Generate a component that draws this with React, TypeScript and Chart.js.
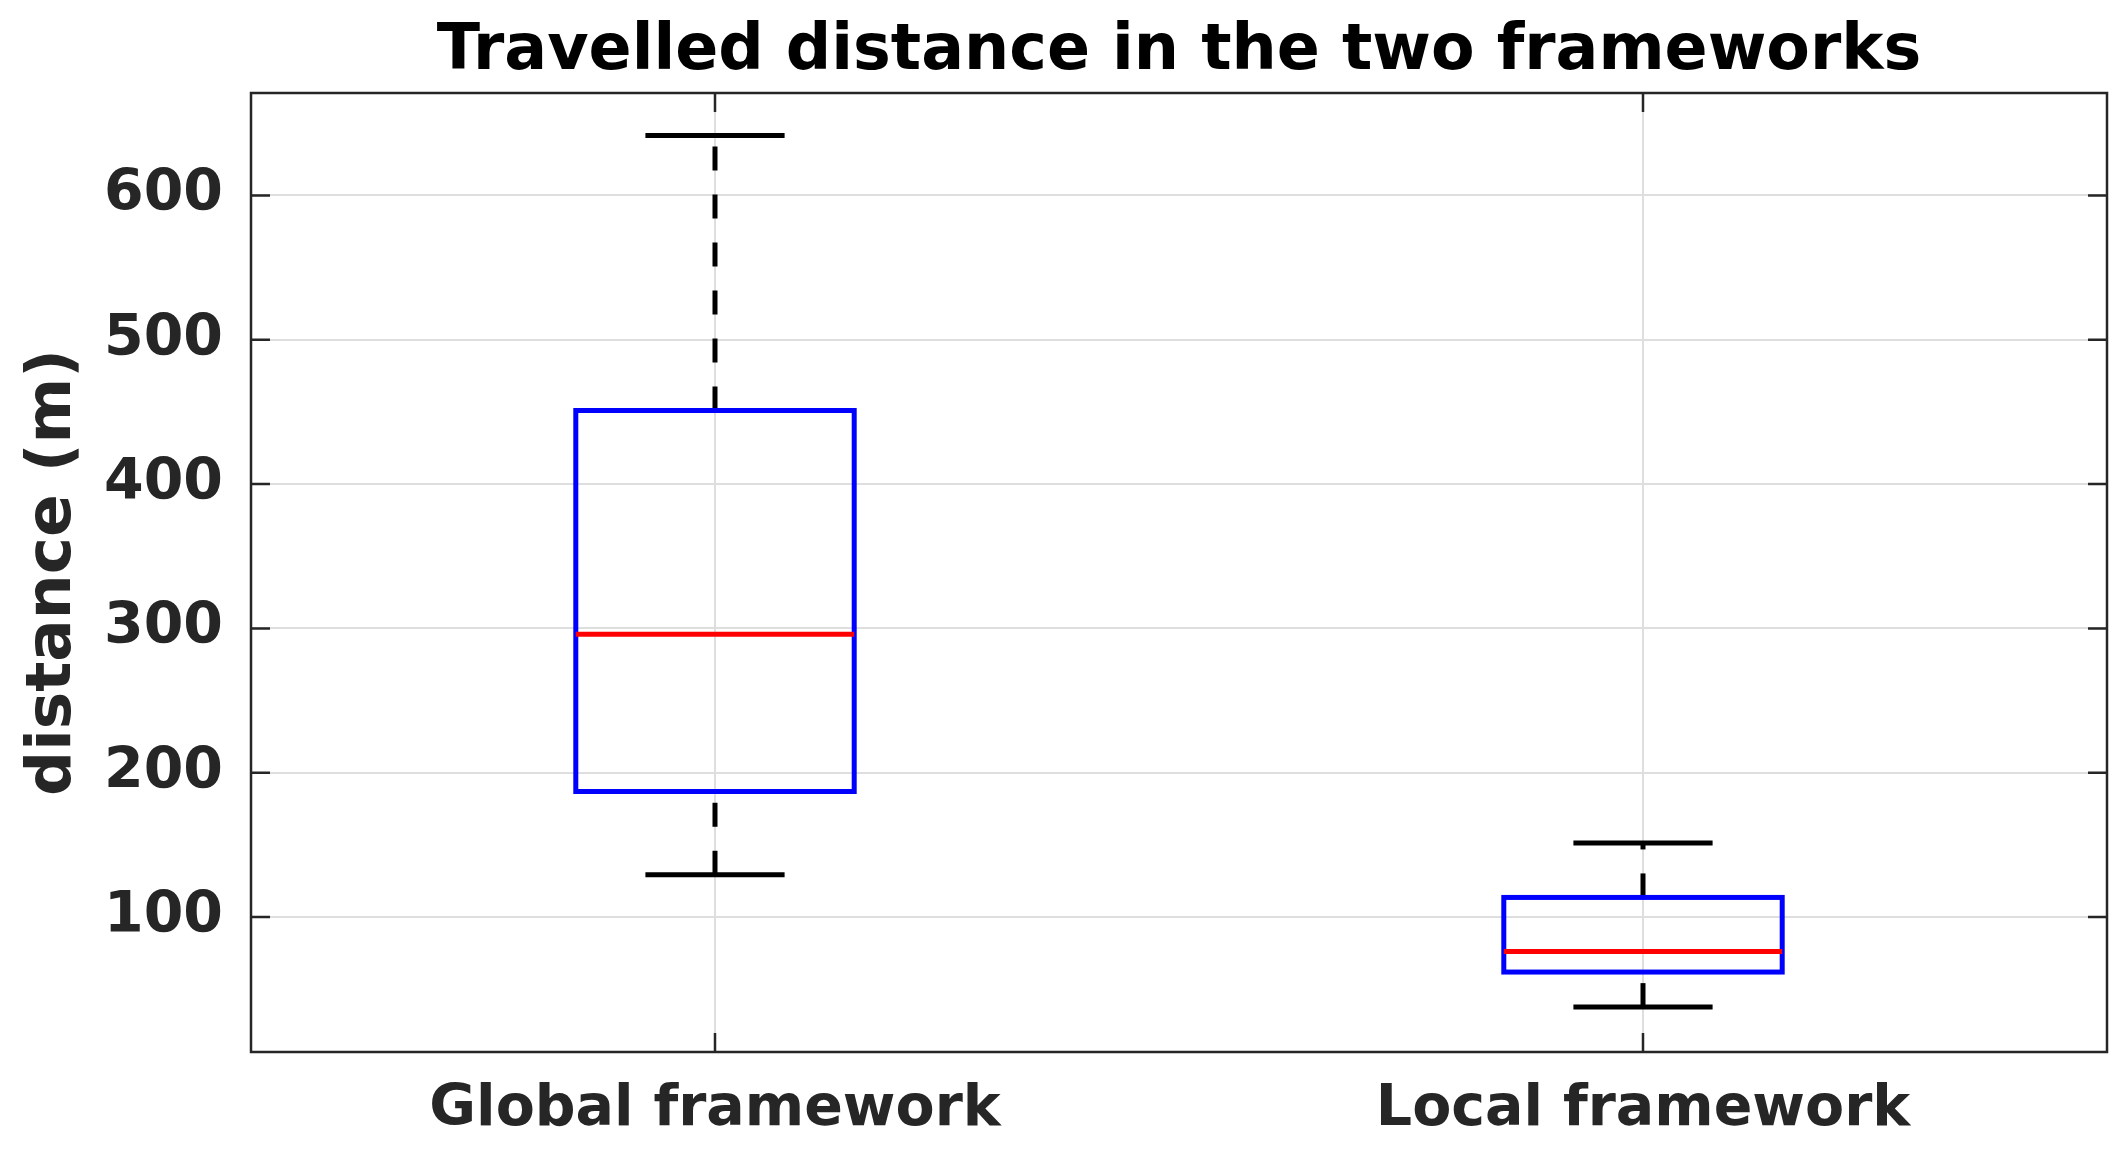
import React, { useEffect, useRef } from "react";
import { Chart, registerables } from "chart.js";

Chart.register(...registerables);

const categories = ["Global framework", "Local framework"];
const lowerWhisker = [129.3, 37.6];
const q1Values = [187.0, 61.9];
const medianValues = [296.0, 76.2];
const q3Values = [451.0, 113.6];
const upperWhisker = [641.6, 151.3];
const yTickValues = [100, 200, 300, 400, 500, 600];
const yMin = 6.5;
const yMax = 671;

const titleText = "Travelled distance in the two frameworks";
const yAxisTitle = "distance (m)";

const centerTitlePlugin = {
  id: "centerTitlePlugin",
  afterLayout(chart: any) {
    const tb = chart.titleBlock;
    if (tb) {
      tb.left = chart.chartArea.left;
      tb.right = chart.chartArea.right;
      tb.width = chart.chartArea.right - chart.chartArea.left;
    }
  },
};

const boxPlotPlugin = {
  id: "boxPlotPlugin",
  afterDatasetsDraw(chart: any) {
    const { ctx, scales } = chart;
    const x = scales.x;
    const y = scales.y;
    const step = Math.abs(x.getPixelForValue(1) - x.getPixelForValue(0));
    const boxHalf = step * 0.15;
    const capHalf = step * 0.075;
    ctx.save();
    ctx.lineCap = "butt";
    for (let i = 0; i < categories.length; i++) {
      const cx = x.getPixelForValue(i);
      const yLw = y.getPixelForValue(lowerWhisker[i]);
      const yQ1 = y.getPixelForValue(q1Values[i]);
      const yMed = y.getPixelForValue(medianValues[i]);
      const yQ3 = y.getPixelForValue(q3Values[i]);
      const yUw = y.getPixelForValue(upperWhisker[i]);
      ctx.strokeStyle = "#000000";
      ctx.lineWidth = 5;
      ctx.setLineDash([24, 24]);
      ctx.beginPath();
      ctx.moveTo(cx, yLw);
      ctx.lineTo(cx, yQ1);
      ctx.stroke();
      ctx.beginPath();
      ctx.moveTo(cx, yQ3);
      ctx.lineTo(cx, yUw);
      ctx.stroke();
      ctx.setLineDash([]);
      ctx.beginPath();
      ctx.moveTo(cx - capHalf, yLw);
      ctx.lineTo(cx + capHalf, yLw);
      ctx.moveTo(cx - capHalf, yUw);
      ctx.lineTo(cx + capHalf, yUw);
      ctx.stroke();
      ctx.strokeStyle = "#0000ff";
      ctx.lineJoin = "miter";
      ctx.strokeRect(cx - boxHalf, yQ3, boxHalf * 2, yQ1 - yQ3);
      ctx.strokeStyle = "#ff0000";
      ctx.beginPath();
      ctx.moveTo(cx - boxHalf, yMed);
      ctx.lineTo(cx + boxHalf, yMed);
      ctx.stroke();
    }
    ctx.restore();
  },
};

const axesFramePlugin = {
  id: "axesFramePlugin",
  afterDraw(chart: any) {
    const { ctx, chartArea, scales } = chart;
    const { left, right, top, bottom } = chartArea;
    const tickLen = 19;
    ctx.save();
    ctx.strokeStyle = "#262626";
    ctx.lineWidth = 2.5;
    ctx.beginPath();
    for (const v of yTickValues) {
      const py = scales.y.getPixelForValue(v);
      ctx.moveTo(left, py);
      ctx.lineTo(left + tickLen, py);
      ctx.moveTo(right, py);
      ctx.lineTo(right - tickLen, py);
    }
    for (let i = 0; i < categories.length; i++) {
      const px = scales.x.getPixelForValue(i);
      ctx.moveTo(px, bottom);
      ctx.lineTo(px, bottom - tickLen);
      ctx.moveTo(px, top);
      ctx.lineTo(px, top + tickLen);
    }
    ctx.stroke();
    ctx.strokeRect(left, top, right - left, bottom - top);
    ctx.restore();
  },
};

export default function App() {
  const canvasRef = useRef<HTMLCanvasElement | null>(null);

  useEffect(() => {
    const canvas = canvasRef.current;
    if (!canvas) return;
    const chart = new Chart(canvas, {
      type: "line",
      data: {
        labels: categories,
        datasets: [],
      },
      options: {
        animation: false,
        responsive: false,
        devicePixelRatio: 1,
        layout: { padding: { left: 0, right: 17, top: 0, bottom: 0 } },
        plugins: {
          legend: { display: false },
          tooltip: { enabled: false },
          title: {
            display: true,
            text: titleText,
            color: "#000000",
            font: { family: "'DejaVu Sans'", size: 63.5, weight: "bold", lineHeight: 1 },
            padding: { top: 21, bottom: 8.5 },
          },
        },
        scales: {
          x: {
            type: "category",
            offset: true,
            grid: { offset: false, color: "#dedede", lineWidth: 2, drawTicks: false },
            border: { display: false },
            ticks: {
              color: "#262626",
              padding: 30,
              font: { family: "'DejaVu Sans'", size: 57, weight: "bold", lineHeight: 1 },
              maxRotation: 0,
              autoSkip: false,
            },
            afterFit(scale: any) {
              scale.height = 101;
            },
          },
          y: {
            type: "linear",
            min: yMin,
            max: yMax,
            grid: { color: "#dedede", lineWidth: 2, drawTicks: false },
            border: { display: false },
            ticks: {
              color: "#262626",
              padding: 28,
              font: { family: "'DejaVu Sans'", size: 57, weight: "bold", lineHeight: 1 },
            },
            afterBuildTicks(scale: any) {
              scale.ticks = yTickValues.map((v) => ({ value: v }));
            },
            afterFit(scale: any) {
              scale.width = 251;
            },
            title: {
              display: true,
              text: yAxisTitle,
              color: "#262626",
              font: { family: "'DejaVu Sans'", size: 63, weight: "bold", lineHeight: 1 },
              padding: { top: 22, bottom: 0 },
            },
          },
        },
      },
      plugins: [centerTitlePlugin, boxPlotPlugin, axesFramePlugin],
    });
    return () => {
      chart.destroy();
    };
  }, []);

  return (
    <div style={{ position: "fixed", left: 0, top: 0, width: 2124, height: 1153, background: "#ffffff" }}>
      <canvas ref={canvasRef} width={2124} height={1153} style={{ display: "block" }} />
    </div>
  );
}
